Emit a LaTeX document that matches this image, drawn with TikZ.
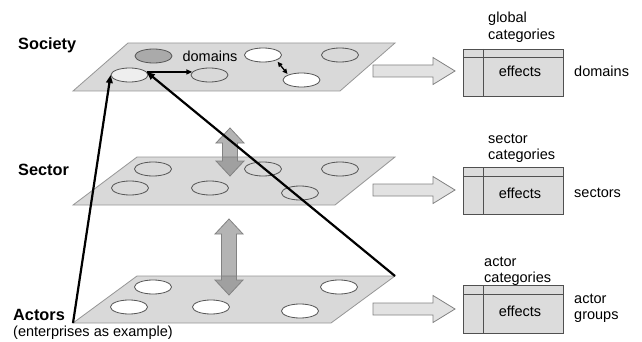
\documentclass[tikz,border=0pt]{standalone}
\usepackage{fontspec}
\setmainfont{Liberation Sans}
\usetikzlibrary{shapes.geometric,arrows.meta}
\definecolor{planefill}{RGB}{217,217,217}
\definecolor{planeedge}{RGB}{150,150,150}
\definecolor{elledge}{RGB}{85,85,85}
\definecolor{darkell}{RGB}{170,170,170}
\definecolor{lightell}{RGB}{238,238,238}
\definecolor{barrowfill}{RGB}{226,226,226}
\definecolor{barrowedge}{RGB}{130,130,130}
\definecolor{varrowfill}{RGB}{96,96,96}
\definecolor{tablefill}{RGB}{220,220,220}
\definecolor{tableedge}{RGB}{80,80,80}
\begin{document}
\begin{tikzpicture}[x=1pt,y=-1pt,
  planestyle/.style={fill=planefill,draw=planeedge,line width=0.8pt},
  ell/.style={ellipse,draw=elledge,line width=0.8pt,minimum width=37pt,minimum height=14pt,inner sep=0pt,fill=planefill},
  whiteell/.style={ell,fill=white},
  txt/.style={font=\fontsize{14.5}{17}\selectfont,inner sep=0pt},
  lbl/.style={font=\bfseries\fontsize{16.3}{19}\selectfont,inner sep=0pt,anchor=west},
  link/.style={line width=2.2pt,-{Triangle[length=8pt,width=6.5pt]}},
  smalllink/.style={line width=1.5pt,-{Triangle[length=6pt,width=5pt]}},
  blockarrow/.style={fill=barrowfill,draw=barrowedge,line width=0.8pt},
  varrow/.style={fill=varrowfill,fill opacity=0.47,draw=barrowedge,line width=0.8pt},
  tablebox/.style={fill=tablefill,draw=tableedge,line width=0.8pt}
]
\useasboundingbox (0,0) rectangle (642,342);

% planes
\draw[planestyle] (73,91) -- (340,91) -- (395,43) -- (128,43) -- cycle;
\draw[planestyle] (73,205) -- (335,205) -- (395,157) -- (137,157) -- cycle;
\draw[planestyle] (73,323) coordinate (abl) -- (331,323) -- (395,276) coordinate (atr) -- (137,276) -- cycle;

% society ellipses
\node[ell,fill=darkell] (s1) at (153.5,56) {};
\node[txt] (sdom) at (210,56) {domains};
\node[whiteell] (s3) at (263,55) {};
\node[ell] (s4) at (340,55) {};
\node[ell,fill=lightell] (s5) at (129.5,75) {};
\node[ell] (s6) at (209.5,75) {};
\node[whiteell] (s7) at (301.5,80) {};

% sector ellipses
\node[ell] (m1) at (153,169) {};
\node[ell] (m2) at (263,169) {};
\node[ell] (m3) at (340,169) {};
\node[ell] (m4) at (130,188) {};
\node[ell] (m5) at (210,188) {};
\node[ell] (m6) at (300,193) {};

% actor ellipses
\node[whiteell] (a1) at (153,287) {};
\node[whiteell] (a2) at (339,287) {};
\node[whiteell] (a3) at (129,307) {};
\node[whiteell] (a4) at (211,307) {};
\node[whiteell] (a5) at (300,311) {};

% vertical double arrows
\foreach \c/\t/\b in {230/128/176, 229/219/295}{
  \draw[varrow] (\c-7.5,\t+15) -- (\c-14,\t+15) -- (\c,\t) -- (\c+14,\t+15) -- (\c+7.5,\t+15)
    -- (\c+7.5,\b-15) -- (\c+14,\b-15) -- (\c,\b) -- (\c-14,\b-15) -- (\c-7.5,\b-15) -- cycle;
}

% connectors
\draw[link] (abl) -- (s5.west);
\draw[link] (atr) -- (s5.10);
\draw[smalllink] (s5.10) -- (s6.170);
\draw[line width=1.3pt,{Triangle[length=5pt,width=4.5pt]}-{Triangle[length=5pt,width=4.5pt]},shorten <=2pt,shorten >=1pt] (s3.south east) -- (s7.north west);

% right block arrows
\foreach \y in {71,190,309}{
  \draw[blockarrow] (373,\y-6) -- (433,\y-6) -- (433,\y-13.5) -- (455,\y) -- (433,\y+13.5) -- (433,\y+6) -- (373,\y+6) -- cycle;
}

% tables
\foreach \t/\b/\h in {49/96/57, 167/214/176, 285/333/294}{
  \draw[tablebox] (463,\t) rectangle (563,\b);
  \draw[tableedge,line width=0.8pt] (463,\h) -- (563,\h);
  \draw[tableedge,line width=0.8pt] (483,\t) -- (483,\b);
}
\node[txt] (e1) at (520,71) {effects};
\node[txt] (e2) at (520,193) {effects};
\node[txt] (e3) at (520,311) {effects};

% table labels
\node[txt,anchor=base west] (g1) at (488,23) {global};
\node[txt,anchor=base west] (g2) at (488,39.5) {categories};
\node[txt,anchor=base west] (c1) at (488,143) {sector};
\node[txt,anchor=base west] (c2) at (488,159.5) {categories};
\node[txt,anchor=base west] (k1) at (484,266) {actor};
\node[txt,anchor=base west] (k2) at (484,282.5) {categories};
\node[txt,anchor=west] (r1) at (574,71) {domains};
\node[txt,anchor=west] (r2) at (574,193) {sectors};
\node[txt,anchor=base west] (r3) at (574,303) {actor};
\node[txt,anchor=base west] (r4) at (574,319) {groups};

% level labels
\node[lbl] (lsoc) at (18,45) {Society};
\node[lbl] (lsec) at (18,170) {Sector};
\node[lbl] (lact) at (13,315) {Actors};
\node[txt,anchor=base west] (lent) at (13,336) {(enterprises as example)};
\end{tikzpicture}
\end{document}
